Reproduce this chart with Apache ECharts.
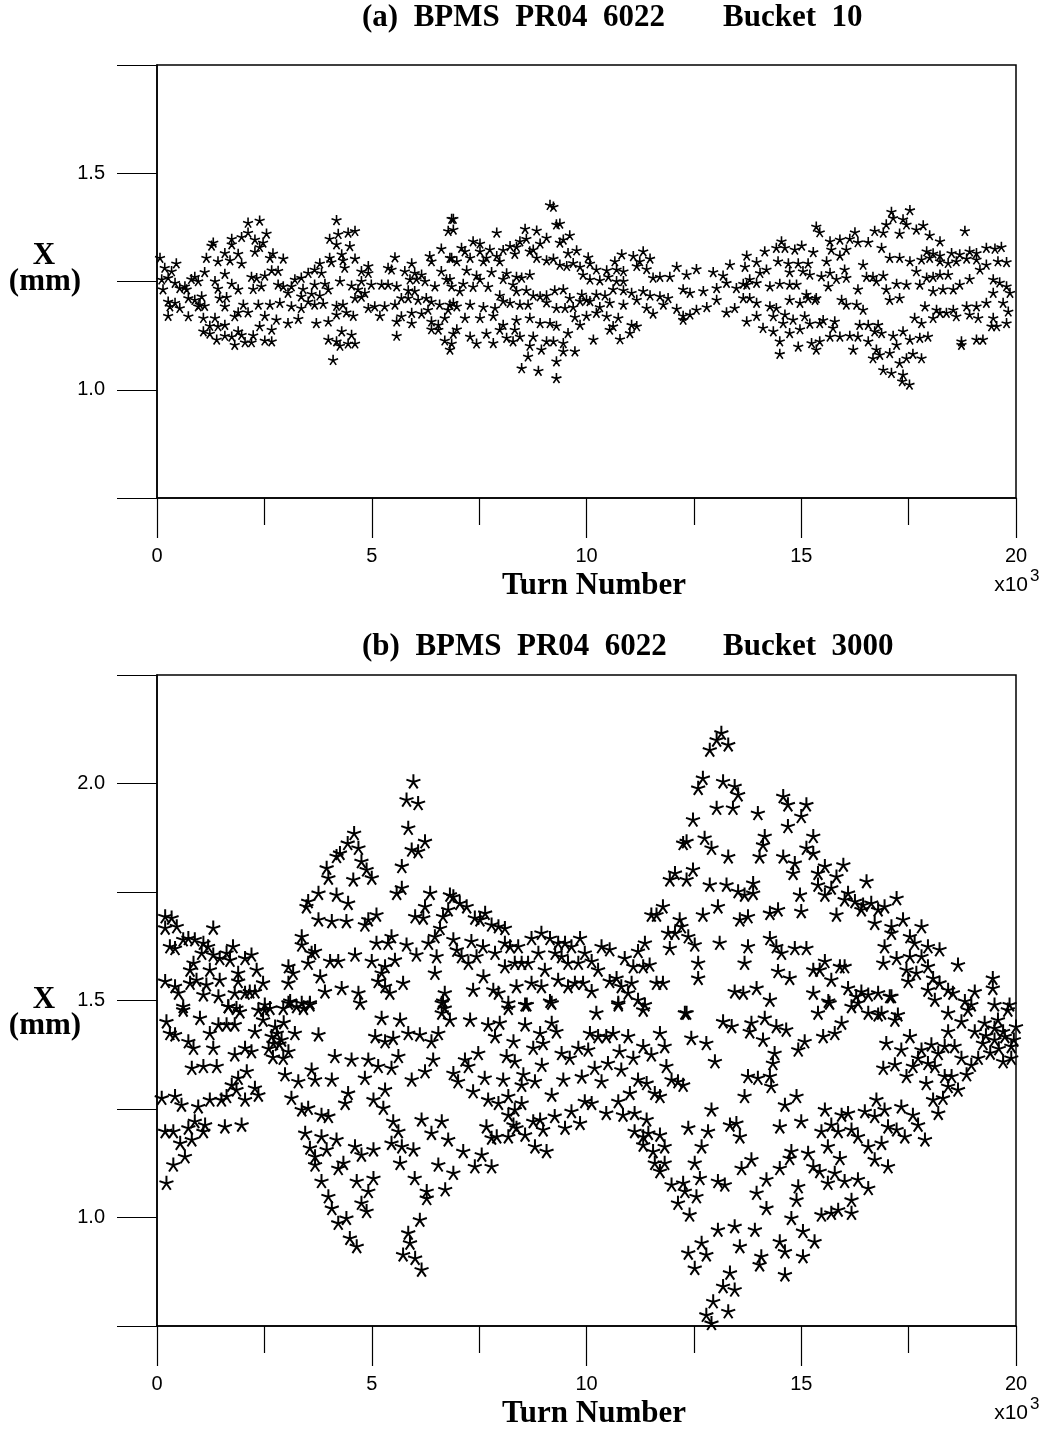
<!DOCTYPE html>
<html>
<head>
<meta charset="utf-8">
<script src="https://cdn.jsdelivr.net/npm/echarts@6/dist/echarts.min.js"></script>
<style>
  html, body { margin: 0; padding: 0; background: #fff; }
  #bpm { width: 1046px; height: 1433px; }
</style>
</head>
<body>
<div id="bpm"></div>
<script>
// turn number (x10^3), horizontal position X (mm)
var bucket10 = [
  [2.12,1.386],[2.39,1.391],[4.18,1.392],[6.86,1.395],[6.78,1.367],[4.61,1.367],[4.45,1.363],[4.22,1.36],[4.02,1.349],[4.18,1.336],[4.49,1.332],[2.12,1.363],[1.97,1.353],[1.74,1.349],[2.55,1.361],[2.28,1.347],[1.31,1.34],[1.74,1.336],[2.47,1.34],[2.39,1.33],[1.27,1.333],[6.62,1.326],
  [1.58,1.316],[1.89,1.314],[2.28,1.319],[2.7,1.315],[2.94,1.303],[2.63,1.305],[1.15,1.305],[1.42,1.297],[1.7,1.299],[1.97,1.292],[0.07,1.305],[0.45,1.292],[0.18,1.282],[0.34,1.274],[3.79,1.292],[4.02,1.305],[4.3,1.313],[4.33,1.299],[4.61,1.303],[4.37,1.282],[4.06,1.295],[5.54,1.306],[5.93,1.292],[6.35,1.309],[6.39,1.297],[6.86,1.305],[6.62,1.274],[5.38,1.282],[5.46,1.278],[4.92,1.286],[4.76,1.274],[4.92,1.27],[5.77,1.274],[6.0,1.27],[6.16,1.266],[3.67,1.278],[3.83,1.27],[3.52,1.27],[2.67,1.276],[2.82,1.275],[1.11,1.272],[1.58,1.268],[2.2,1.261],[2.32,1.258],[2.51,1.264],
  [0.11,1.255],[0.26,1.259],[0.42,1.247],[0.65,1.239],[0.8,1.256],[0.88,1.261],[0.96,1.251],[0.69,1.232],[0.14,1.232],[0.53,1.235],[1.35,1.251],[1.42,1.234],[1.74,1.245],[1.89,1.232],[2.24,1.233],[2.43,1.239],[2.82,1.243],[2.94,1.239],[3.21,1.255],[3.36,1.259],[3.13,1.239],[3.4,1.233],[3.67,1.243],[3.91,1.245],[3.99,1.232],[4.26,1.251],[4.53,1.241],[4.76,1.251],[4.99,1.243],[5.23,1.243],[5.38,1.243],[5.58,1.239],[5.89,1.255],[6.04,1.256],[6.24,1.251],[6.47,1.239],[6.74,1.255],[6.86,1.239],[5.85,1.23],[6.0,1.228],[4.68,1.232],[4.84,1.224],[3.05,1.224],[3.36,1.216],[3.6,1.222],[3.79,1.218],
  [0.26,1.204],[0.42,1.201],[0.73,1.212],[0.88,1.208],[1.04,1.216],[1.0,1.197],[1.46,1.212],[1.62,1.214],[1.58,1.193],[2.01,1.197],[2.36,1.197],[2.63,1.197],[2.86,1.201],[3.13,1.193],[3.36,1.189],[3.52,1.204],[3.67,1.197],[3.87,1.199],[4.18,1.194],[4.33,1.197],[4.61,1.212],[4.76,1.215],[4.92,1.189],[5.07,1.193],[5.3,1.193],[5.54,1.197],[5.69,1.212],[5.85,1.212],[6.08,1.208],[6.27,1.212],[6.39,1.204],[5.93,1.178],[6.16,1.176],[6.31,1.185],[6.58,1.197],[6.78,1.185],[6.9,1.201],[0.3,1.193],[0.53,1.189],[0.96,1.193],[1.11,1.194],[1.89,1.179],[2.12,1.179],[4.18,1.174],[4.41,1.179],[4.57,1.171],
  [0.26,1.171],[0.73,1.17],[1.08,1.166],[1.35,1.166],[1.81,1.17],[2.51,1.171],[2.78,1.162],[3.05,1.154],[3.29,1.164],[3.71,1.154],[3.99,1.158],[5.19,1.171],[5.69,1.17],[5.58,1.158],[5.93,1.154],[6.39,1.158],[6.55,1.15],[6.7,1.166],[1.23,1.148],[1.42,1.147],[1.58,1.15],[2.39,1.147],[2.67,1.139],[1.89,1.135],[1.08,1.135],[1.23,1.13],[1.58,1.125],[1.74,1.123],[1.97,1.127],[2.24,1.126],[1.39,1.116],[1.81,1.104],[2.05,1.11],[2.2,1.11],[2.51,1.114],[2.67,1.112],[4.3,1.135],[4.53,1.127],[3.99,1.116],[4.18,1.112],[4.26,1.102],[4.45,1.107],[4.61,1.107],[5.58,1.125],[6.39,1.14],[6.55,1.139],[6.7,1.114],[6.86,1.107],[6.82,1.093],[6.9,1.13],[4.1,1.069],
  [9.15,1.427],[9.23,1.423],[6.9,1.395],[9.3,1.382],[9.38,1.384],[6.9,1.37],[7.91,1.363],[8.57,1.372],[8.84,1.368],[9.07,1.351],[9.61,1.357],[9.46,1.347],[9.38,1.34],[8.45,1.343],[8.6,1.349],[8.22,1.332],[8.37,1.33],[8.76,1.324],[8.68,1.32],[8.92,1.338],[7.36,1.343],[7.52,1.338],[7.09,1.328],[7.17,1.32],[7.52,1.32],[7.75,1.324],[8.06,1.323],[8.33,1.314],
  [6.82,1.305],[6.98,1.297],[7.29,1.305],[7.6,1.297],[7.67,1.305],[7.91,1.309],[7.98,1.297],[8.84,1.305],[9.07,1.299],[9.23,1.303],[9.57,1.316],[9.77,1.322],[10.04,1.306],[10.08,1.292],[9.38,1.289],[9.54,1.286],[9.69,1.293],[9.85,1.284],[10.23,1.278],[10.47,1.276],[10.7,1.278],[10.86,1.274],[10.66,1.297],[10.82,1.313],[11.09,1.309],[11.32,1.32],[11.48,1.303],[11.24,1.297],[11.17,1.286],[11.4,1.279],
  [7.21,1.276],[7.44,1.264],[7.79,1.272],[8.14,1.269],[8.37,1.261],[8.68,1.266],[6.82,1.256],[7.52,1.255],[8.06,1.256],[8.29,1.243],[8.49,1.259],[9.92,1.266],[10.08,1.255],[10.31,1.253],[10.51,1.261],[10.7,1.251],[10.86,1.251],[11.55,1.259],[11.71,1.261],[11.94,1.261],[12.1,1.284],[12.33,1.266],[12.56,1.279],[12.95,1.272],[13.18,1.264],[13.34,1.289],[13.69,1.284],[13.73,1.31],
  [7.13,1.245],[7.36,1.238],[7.71,1.238],[7.05,1.228],[7.98,1.218],[8.37,1.228],[8.6,1.23],[8.76,1.218],[8.92,1.216],[9.07,1.218],[9.26,1.23],[9.46,1.232],[9.61,1.212],[9.89,1.22],[10.0,1.208],[10.23,1.22],[10.43,1.218],[10.62,1.232],[10.86,1.23],[11.05,1.224],[11.32,1.228],[11.48,1.218],[11.71,1.216],[11.9,1.212],[12.25,1.232],[12.41,1.224],[12.72,1.228],[13.03,1.235],[13.26,1.247],[13.49,1.235],[13.65,1.245],
  [6.82,1.197],[6.98,1.193],[7.29,1.197],[7.6,1.191],[7.87,1.189],[8.06,1.205],[8.22,1.201],[8.45,1.197],[8.64,1.197],[9.07,1.202],[9.3,1.189],[9.5,1.189],[9.69,1.191],[9.85,1.205],[10.08,1.205],[10.31,1.191],[10.54,1.201],[10.86,1.197],[11.17,1.208],[11.4,1.189],[11.55,1.176],[11.79,1.197],[12.1,1.187],[12.25,1.171],[12.41,1.174],[12.56,1.185],[12.8,1.191],[13.03,1.208],[13.26,1.179],[13.45,1.189],[13.65,1.212],
  [7.17,1.166],[7.52,1.166],[7.83,1.171],[8.06,1.15],[8.37,1.161],[8.68,1.166],[8.92,1.154],[9.15,1.154],[9.3,1.148],[9.73,1.168],[10.0,1.171],[9.85,1.15],[10.23,1.178],[10.47,1.17],[10.74,1.166],[10.62,1.147],[11.05,1.15],[11.17,1.147],[12.25,1.162],
  [6.98,1.14],[7.29,1.123],[7.44,1.107],[7.67,1.13],[7.83,1.108],[7.98,1.139],[8.14,1.12],[8.33,1.139],[8.29,1.112],[8.45,1.123],[8.76,1.123],[8.68,1.102],[8.95,1.093],[9.07,1.112],[9.23,1.112],[9.46,1.108],[9.57,1.131],[9.46,1.089],[9.73,1.089],[10.16,1.116],[10.78,1.117],[11.01,1.131],[10.54,1.139],[8.64,1.077],[8.49,1.05],[8.88,1.044],[9.3,1.066],[9.3,1.027],
  [17.1,1.411],[17.53,1.415],[17.14,1.397],[17.37,1.394],[17.45,1.382],[16.98,1.382],[17.84,1.38],[17.68,1.37],[17.29,1.361],[17.99,1.357],[18.81,1.367],[18.23,1.343],[15.35,1.377],[15.43,1.364],[16.25,1.364],[16.71,1.367],[16.91,1.363],[15.9,1.347],[15.67,1.343],[16.13,1.349],[16.32,1.341],[16.56,1.341],[14.54,1.343],[14.42,1.328],[14.62,1.328],[14.85,1.324],[15.01,1.333],[15.28,1.318],[14.15,1.32],[15.7,1.324],[15.9,1.31],[16.05,1.324],[16.87,1.328],[17.92,1.32],[18.07,1.315],[18.23,1.31],[18.5,1.316],[18.69,1.313],[18.92,1.32],[19.08,1.316],[19.31,1.328],[19.51,1.326],[19.66,1.33],
  [13.96,1.295],[14.19,1.278],[14.46,1.297],[14.7,1.292],[14.93,1.292],[15.16,1.292],[15.59,1.297],[14.73,1.272],[15.04,1.274],[15.2,1.266],[15.47,1.262],[15.67,1.27],[16.01,1.278],[15.82,1.256],[16.44,1.289],[16.67,1.261],[16.91,1.264],[17.06,1.305],[17.29,1.305],[17.53,1.297],[17.8,1.301],[17.99,1.305],[18.23,1.297],[18.42,1.293],[18.61,1.297],[18.85,1.303],[19.08,1.301],[19.31,1.289],[19.58,1.297],[19.78,1.295],
  [13.8,1.255],[14.04,1.27],[13.73,1.243],[13.96,1.247],[14.27,1.239],[14.5,1.245],[14.73,1.243],[14.89,1.243],[15.12,1.22],[15.32,1.208],[15.63,1.239],[16.05,1.259],[16.32,1.232],[16.52,1.261],[16.75,1.251],[16.98,1.232],[17.22,1.245],[17.45,1.243],[17.76,1.243],[17.29,1.212],[17.68,1.274],[17.92,1.259],[18.07,1.261],[18.23,1.266],[18.07,1.228],[18.3,1.232],[18.54,1.232],[18.69,1.243],[18.42,1.266],[18.92,1.256],[19.16,1.278],[19.47,1.255],[19.62,1.248],[19.78,1.239],[19.86,1.224],
  [13.8,1.212],[13.96,1.201],[14.27,1.193],[14.42,1.189],[14.73,1.208],[14.97,1.201],[15.16,1.212],[15.35,1.212],[15.94,1.208],[16.05,1.197],[16.29,1.197],[16.44,1.185],[17.88,1.193],[18.15,1.185],[18.23,1.178],[18.54,1.185],[18.85,1.193],[19.08,1.193],[19.31,1.201],[19.47,1.224],[19.7,1.201],[19.82,1.181],[17.06,1.208],
  [13.96,1.171],[14.35,1.17],[14.62,1.174],[14.81,1.162],[15.08,1.17],[15.51,1.161],[15.78,1.158],[13.73,1.158],[14.58,1.154],[15.2,1.153],[15.43,1.154],[15.74,1.143],[16.36,1.15],[16.56,1.15],[16.79,1.15],[17.64,1.166],[17.8,1.154],[18.07,1.166],[18.38,1.178],[18.61,1.17],[18.92,1.174],[19.12,1.166],[19.47,1.166],[19.78,1.154],
  [14.11,1.143],[14.35,1.135],[14.73,1.131],[14.97,1.14],[15.24,1.108],[15.43,1.112],[15.67,1.123],[15.9,1.123],[16.13,1.125],[16.32,1.123],[16.56,1.112],[16.71,1.135],[16.87,1.131],[17.14,1.125],[17.37,1.135],[17.53,1.116],[17.76,1.12],[17.95,1.123],[18.73,1.112],[19.08,1.116],[19.23,1.116],[19.43,1.147],[19.55,1.147],
  [14.5,1.112],[14.5,1.083],[14.93,1.1],[15.35,1.093],[16.21,1.093],[16.75,1.093],[16.67,1.073],[16.83,1.081],[17.06,1.085],[17.22,1.104],[17.45,1.073],[17.6,1.083],[17.8,1.073],[17.29,1.062],[16.91,1.046],[17.1,1.039],[17.37,1.035],[18.73,1.104],[17.52,1.012],[17.35,1.02]
];

var bucket3000 = [
  [5.97,2.005],[5.81,1.963],[6.08,1.955],[5.85,1.898],[5.93,1.848],[6.08,1.844],[6.24,1.867],[5.7,1.81],[5.58,1.748],[5.7,1.76],
  [4.59,1.886],[4.44,1.863],[4.69,1.852],[4.26,1.84],[4.18,1.833],[4.76,1.821],[4.88,1.802],[5.0,1.783],[3.95,1.806],[3.99,1.783],[4.57,1.779],[4.18,1.744],[4.45,1.725],[3.52,1.729],[3.76,1.748],[3.48,1.717],[3.76,1.687],[4.07,1.683],[4.41,1.683],[4.84,1.675],[4.92,1.687],[5.11,1.698],[6.01,1.694],[6.2,1.691],[6.36,1.748],[6.24,1.717],[6.82,1.744],[6.9,1.74],[7.05,1.725],[7.21,1.717],[6.78,1.71],[6.66,1.694],[7.4,1.691],[7.64,1.702],[7.52,1.687],[7.79,1.675],[7.95,1.671],[8.1,1.667],[8.72,1.644],[8.95,1.656],[9.15,1.644],[9.34,1.633],[9.5,1.633],[9.65,1.625],[9.85,1.644],
  [6.59,1.667],[6.47,1.648],[6.32,1.633],[6.51,1.602],[6.47,1.564],[6.7,1.518],[6.66,1.499],[6.9,1.641],[6.98,1.617],[7.09,1.602],[7.25,1.587],[7.32,1.637],[7.59,1.625],[7.44,1.602],[7.87,1.61],[8.1,1.633],[8.22,1.625],[8.41,1.625],[8.1,1.579],[8.33,1.587],[8.49,1.587],[8.64,1.587],[9.03,1.571],[8.88,1.61],[9.27,1.61],[9.42,1.602],[9.57,1.587],[9.81,1.587],[9.34,1.548],[9.57,1.533],[9.73,1.541],[9.92,1.541],[8.72,1.541],[8.95,1.533],[8.37,1.533],[7.36,1.525],[7.6,1.556],[7.83,1.525],[7.95,1.518],[8.18,1.495],[8.57,1.491],[9.15,1.499],
  [0.19,1.694],[0.34,1.691],[0.19,1.668],[0.46,1.671],[0.3,1.625],[0.42,1.621],[0.61,1.641],[0.73,1.644],[0.88,1.641],[1.08,1.633],[1.31,1.668],[1.19,1.625],[1.04,1.61],[0.77,1.571],[0.85,1.587],[1.31,1.606],[1.46,1.598],[1.62,1.61],[1.77,1.625],[1.7,1.594],[1.23,1.571],[1.89,1.564],[2.05,1.598],[2.2,1.606],[2.32,1.571],[0.19,1.545],[0.42,1.533],[0.5,1.518],[0.77,1.541],[0.92,1.548],[1.08,1.514],[1.15,1.537],[1.46,1.548],[1.43,1.51],[1.81,1.518],[1.89,1.545],[2.05,1.518],[2.16,1.521],[2.28,1.521],[2.47,1.541],[0.61,1.487],[1.66,1.487],[1.85,1.483],[2.51,1.491],
  [3.37,1.648],[3.37,1.629],[3.6,1.61],[3.52,1.587],[3.68,1.614],[3.06,1.579],[3.17,1.564],[3.06,1.541],[3.8,1.556],[3.91,1.521],[4.03,1.591],[4.22,1.591],[4.3,1.529],[4.61,1.606],[4.69,1.518],[4.73,1.495],[5.0,1.591],[5.11,1.633],[5.38,1.633],[5.46,1.648],[5.54,1.594],[5.31,1.579],[5.23,1.564],[5.15,1.545],[5.31,1.533],[5.42,1.518],[5.73,1.541],[5.81,1.629],[6.04,1.606],[2.94,1.483],[3.1,1.499],[3.37,1.495],[3.56,1.491],[2.63,1.483],[6.7,1.483],
  [13.14,2.117],[13.03,2.101],[12.87,2.078],[13.3,2.09],[12.71,2.013],[12.6,1.99],[13.18,2.005],[13.45,1.994],[13.53,1.975],[13.03,1.944],[13.41,1.944],[12.48,1.917],[13.99,1.932],[14.58,1.971],[14.69,1.952],[14.69,1.902],[15.0,1.925],[15.12,1.952],[14.15,1.879],[14.11,1.859],[14.03,1.832],[15.28,1.879],[15.12,1.852],[15.28,1.84],[14.58,1.832],[14.85,1.817],[14.81,1.794],[13.3,1.832],[12.25,1.863],[12.33,1.867],[12.75,1.875],[12.91,1.852],[12.48,1.802],[12.06,1.794],[11.94,1.779],[12.33,1.779],[12.87,1.767],[13.26,1.767],[13.53,1.752],[13.68,1.744],[13.88,1.771],[13.88,1.748],[14.97,1.744],[15.0,1.706],
  [15.39,1.794],[15.55,1.81],[15.82,1.786],[15.98,1.813],[15.39,1.767],[15.55,1.744],[15.7,1.76],[16.52,1.775],[16.09,1.748],[16.01,1.733],[16.25,1.729],[16.44,1.721],[16.4,1.71],[16.63,1.725],[16.79,1.71],[16.94,1.717],[17.22,1.736],[15.82,1.698],[16.71,1.679],[17.1,1.671],[17.37,1.687],[17.53,1.648],[17.8,1.671],[17.64,1.633],[16.94,1.625],[17.1,1.656],[16.91,1.587],[17.22,1.598],[17.45,1.571],[17.53,1.602],[17.8,1.602],[17.95,1.625],[18.22,1.618],[17.95,1.579],[17.49,1.545],[17.68,1.564],[18.07,1.552],[18.22,1.541],[18.42,1.525],[18.65,1.583],[17.95,1.525],[18.11,1.502],[18.53,1.518],[18.81,1.499],[18.96,1.491],[19.04,1.521],[19.46,1.552],[19.46,1.529],[19.5,1.491],[19.85,1.491],[17.1,1.51],
  [9.96,1.61],[10.12,1.591],[10.35,1.625],[10.54,1.618],[10.27,1.571],[10.12,1.522],[10.54,1.545],[10.7,1.552],[10.74,1.495],[10.89,1.598],[10.81,1.533],[11.05,1.541],[10.97,1.518],[11.09,1.579],[11.32,1.579],[11.47,1.583],[11.2,1.614],[11.36,1.633],[11.2,1.502],[11.36,1.491],[11.63,1.541],[11.78,1.541],[11.51,1.698],[11.63,1.698],[11.78,1.717],[11.9,1.656],[12.06,1.656],[12.21,1.671],[11.94,1.621],[12.17,1.687],[12.37,1.648],[12.52,1.629],[12.6,1.587],[12.6,1.552],[12.71,1.698],[13.06,1.717],[13.1,1.633],[13.57,1.687],[13.76,1.694],[13.76,1.625],[13.68,1.587],[14.27,1.702],[14.46,1.71],[14.27,1.644],[14.42,1.625],[14.54,1.61],[14.46,1.568],[14.73,1.552],[14.85,1.621],[15.12,1.621],[15.28,1.571],[15.43,1.571],[15.55,1.591],[15.7,1.548],[15.9,1.579],[16.01,1.579],[16.09,1.529],[16.28,1.51],[16.4,1.521],[16.56,1.514],[16.79,1.518],[17.06,1.51],[13.45,1.521],[13.65,1.518],[13.96,1.529],[14.27,1.502],[15.28,1.518],[15.63,1.499],
  [0.22,1.452],[0.3,1.425],[0.42,1.422],[0.73,1.406],[0.85,1.391],[0.61,1.479],[1.0,1.46],[1.23,1.425],[1.43,1.445],[1.62,1.445],[1.81,1.445],[1.93,1.475],[1.66,1.487],[0.81,1.345],[1.08,1.349],[1.39,1.349],[1.31,1.391],[1.81,1.376],[2.05,1.391],[2.2,1.383],[2.28,1.429],[2.47,1.456],[2.36,1.479],[2.51,1.479],[2.67,1.418],[2.79,1.425],[2.71,1.402],[2.9,1.41],[3.06,1.383],[2.94,1.368],[3.21,1.425],[3.25,1.487],[3.06,1.495],[3.41,1.483],[3.56,1.495],[2.75,1.44],[2.85,1.4],[2.6,1.39],[2.95,1.45],[2.7,1.37],
  [1.89,1.322],[1.74,1.306],[2.09,1.337],[2.28,1.299],[2.36,1.283],[2.05,1.272],[1.85,1.295],[0.11,1.276],[0.42,1.28],[0.57,1.26],[0.96,1.256],[1.23,1.272],[1.5,1.272],[1.62,1.28],[0.19,1.199],[0.38,1.199],[0.54,1.172],[0.73,1.207],[0.81,1.18],[0.88,1.222],[1.12,1.214],[1.08,1.199],[1.58,1.21],[1.97,1.214],[0.65,1.141],[0.38,1.122],[0.22,1.08],
  [2.98,1.33],[3.13,1.276],[3.29,1.314],[3.37,1.249],[3.6,1.341],[3.68,1.318],[3.52,1.253],[3.76,1.422],[3.83,1.237],[3.99,1.234],[4.14,1.372],[4.53,1.364],[4.07,1.318],[4.45,1.287],[4.38,1.264],[3.45,1.195],[3.56,1.161],[3.68,1.141],[3.68,1.122],[3.83,1.187],[3.95,1.157],[4.18,1.18],[3.83,1.084],[3.99,1.049],[4.07,1.022],[4.22,0.988],[4.41,0.999],[4.49,0.953],[4.65,0.934],[4.22,1.114],[4.34,1.126],[4.61,1.164],[4.76,1.145],[5.04,1.157],[4.65,1.084],[4.92,1.061],[4.76,1.034],[4.88,1.015],[5.04,1.091],
  [4.92,1.364],[5.15,1.349],[4.84,1.322],[5.04,1.272],[5.31,1.295],[5.27,1.253],[5.46,1.345],[5.62,1.372],[5.5,1.222],[5.62,1.199],[5.46,1.172],[5.08,1.418],[5.23,1.46],[5.31,1.406],[5.5,1.414],[5.66,1.456],[5.85,1.425],[6.12,1.422],[6.39,1.406],[6.55,1.425],[6.43,1.364],[6.24,1.337],[5.93,1.318],[6.16,1.226],[6.39,1.195],[6.63,1.222],[6.78,1.18],[6.55,1.122],[6.71,1.065],[6.9,1.103],[7.13,1.153],[7.4,1.118],[7.56,1.145],[7.79,1.118],[5.7,1.164],[5.97,1.157],[5.66,1.126],[6.0,1.091],[6.28,1.061],[6.28,1.045],[6.12,0.995],[5.85,0.965],[5.73,0.915],[6.01,0.907],[6.16,0.88],[5.89,0.942],
  [6.63,1.495],[6.63,1.472],[6.82,1.456],[7.29,1.456],[7.71,1.445],[7.98,1.449],[8.18,1.483],[7.87,1.418],[8.3,1.406],[8.61,1.491],[8.57,1.445],[8.92,1.425],[9.19,1.495],[9.19,1.449],[9.3,1.429],[6.9,1.333],[7.01,1.314],[7.17,1.364],[7.25,1.349],[7.48,1.379],[7.63,1.322],[7.36,1.291],[8.06,1.318],[8.14,1.372],[8.33,1.36],[8.53,1.33],[8.49,1.306],[8.76,1.391],[8.99,1.402],[8.96,1.352],[8.8,1.314],[9.19,1.283],[9.42,1.379],[9.61,1.368],[9.81,1.391],[9.89,1.325],[9.46,1.318],
  [7.71,1.272],[7.95,1.264],[8.18,1.28],[8.33,1.249],[8.49,1.264],[8.18,1.237],[8.3,1.214],[8.57,1.191],[8.8,1.164],[8.99,1.203],[9.07,1.153],[8.76,1.222],[8.92,1.226],[9.26,1.234],[9.5,1.207],[9.65,1.245],[9.85,1.218],[7.79,1.184],[7.91,1.187],[8.18,1.187],[8.37,1.207],[7.67,1.21],
  [10.23,1.472],[10.74,1.491],[11.32,1.479],[12.29,1.472],[10.08,1.425],[10.27,1.418],[10.46,1.418],[10.62,1.425],[10.97,1.418],[10.77,1.383],[11.09,1.368],[11.32,1.395],[11.51,1.376],[11.71,1.425],[11.82,1.395],[10.04,1.387],[10.19,1.345],[10.5,1.356],[10.81,1.341],[11.01,1.287],[11.2,1.318],[11.4,1.31],[11.59,1.287],[11.71,1.28],[11.86,1.349],[11.98,1.318],[12.13,1.314],[12.25,1.306],
  [9.96,1.268],[10.12,1.264],[10.35,1.314],[10.46,1.241],[10.74,1.268],[10.85,1.237],[11.12,1.241],[11.4,1.226],[11.12,1.199],[11.32,1.187],[11.44,1.195],[11.71,1.191],[11.32,1.168],[11.55,1.153],[11.82,1.164],[11.59,1.126],[11.82,1.126],[11.71,1.107],[11.98,1.076],[12.13,1.034],[12.29,1.061],[12.25,1.08],[12.4,1.007],[12.56,1.049],[12.64,1.091],[12.37,1.207],[12.68,1.164],[12.83,1.199],[12.91,1.249],[12.52,1.126],
  [13.06,1.084],[13.22,1.076],[13.34,1.214],[13.49,1.218],[13.57,1.187],[13.61,1.114],[13.84,1.134],[13.96,1.057],[14.19,1.088],[14.19,1.022],[14.5,1.114],[14.5,1.21],[14.62,1.26],[14.89,1.28],[15.0,1.222],[14.77,1.153],[14.73,1.137],[14.93,1.072],[14.89,1.041],[14.77,0.999],
  [13.06,0.972],[13.45,0.98],[13.92,0.972],[13.57,0.934],[12.68,0.942],[12.79,0.915],[12.37,0.919],[12.52,0.884],[14.07,0.911],[14.03,0.892],[14.5,0.945],[14.62,0.922],[15.04,0.911],[15.04,0.969],[15.31,0.945],[14.62,0.869],[13.34,0.873],[13.18,0.842],[13.45,0.834],[12.95,0.807],[12.79,0.776],[12.91,0.757],[13.3,0.784],
  [13.18,1.452],[13.38,1.441],[13.8,1.429],[13.84,1.449],[14.15,1.46],[14.11,1.41],[14.42,1.441],[14.65,1.433],[14.38,1.379],[14.34,1.356],[14.27,1.326],[13.99,1.322],[13.76,1.326],[13.68,1.28],[14.3,1.303],[14.93,1.387],[15.08,1.406],[15.51,1.418],[15.78,1.425],[15.94,1.449],[15.39,1.472],[15.66,1.495],[12.33,1.472],[12.44,1.414],[12.79,1.402],[12.99,1.36],
  [16.17,1.487],[16.32,1.495],[16.56,1.472],[16.79,1.468],[17.18,1.456],[17.25,1.468],[16.87,1.472],[16.98,1.402],[16.91,1.345],[17.18,1.353],[17.33,1.387],[17.53,1.418],[17.6,1.349],[17.45,1.326],[17.72,1.368],[17.8,1.387],[18.03,1.399],[18.19,1.379],[18.34,1.395],[18.42,1.429],[18.57,1.395],[17.95,1.356],[18.11,1.349],[17.91,1.31],[18.07,1.272],[18.19,1.241],[18.3,1.276],[18.42,1.303],[18.34,1.326],[18.5,1.326],[18.65,1.295],[18.73,1.368],[18.96,1.352],[18.85,1.33],[19.12,1.368],[19.23,1.402],[19.5,1.41],[19.7,1.429],[19.89,1.395],[19.89,1.368],[19.27,1.449],[19.58,1.456],[19.81,1.479],[18.88,1.479],[18.42,1.472],[18.73,1.452],[19.04,1.429],[19.5,1.437],[19.74,1.418],[19.3,1.42],[19.6,1.39],[19.95,1.41],[19.7,1.36],[20.0,1.44],[19.4,1.38],
  [15.55,1.249],[15.47,1.199],[15.7,1.214],[15.62,1.164],[15.94,1.237],[15.86,1.199],[16.09,1.241],[16.17,1.203],[16.32,1.187],[16.48,1.245],[16.56,1.164],[16.71,1.234],[16.75,1.272],[16.94,1.249],[17.02,1.21],[17.22,1.203],[17.33,1.256],[17.41,1.187],[17.6,1.237],[17.72,1.214],[17.88,1.18],[16.71,1.134],[17.02,1.118],[16.87,1.172],[15.9,1.137],[16.01,1.084],[15.78,1.103],[15.62,1.08],[16.17,1.041],[16.32,1.088],[16.56,1.068],[16.17,1.011],[15.86,1.018],[15.7,1.011],[15.47,1.007],[15.16,1.149],[15.28,1.118],[15.43,1.107]
];

var titlesLeft = ['(a)  BPMS  PR04  6022', '(b)  BPMS  PR04  6022'];
var titlesRight = ['Bucket  10', 'Bucket  3000'];
var yLabelsA = [1.0, 1.5];
var yLabelsB = [1.0, 1.5, 2.0];

var serif = '"Liberation Serif", "Times New Roman", serif';
var sans = '"Liberation Sans", Arial, sans-serif';
var star = 'path://M0,-10L0,0M9.51,-3.09L0,0M5.88,8.09L0,0M-5.88,8.09L0,0M-9.51,-3.09L0,0';

// panel geometry in px
var panels = [
  { top: 65, height: 433, min: 0.75, max: 1.75, labels: yLabelsA, titleY: 18, nameY: 256, size: 10, stroke: 1.6 },
  { top: 675, height: 651, min: 0.75, max: 2.25, labels: yLabelsB, titleY: 647, nameY: 1000, size: 14, stroke: 2.0 }
];

var chart = echarts.init(document.getElementById('bpm'));

var grids = [], xAxes = [], yAxes = [], graphics = [];
panels.forEach(function (p, i) {
  grids.push({
    left: 157, top: p.top, width: 859, height: p.height,
    show: true, borderColor: '#000', borderWidth: 1.5
  });
  xAxes.push({
    type: 'value', gridIndex: i, min: 0, max: 20, interval: 5,
    axisLine: { show: true, lineStyle: { color: '#000', width: 1.5 } },
    axisTick: { show: true, length: 40, lineStyle: { color: '#000', width: 1.2 } },
    minorTick: { show: true, splitNumber: 2, length: 27, lineStyle: { color: '#000', width: 1.2 } },
    axisLabel: { margin: 48, fontSize: 20, color: '#000', fontFamily: sans },
    splitLine: { show: false }
  });
  yAxes.push({
    type: 'value', gridIndex: i, min: p.min, max: p.max, interval: 0.25,
    axisLine: { show: true, lineStyle: { color: '#000', width: 1.5 } },
    axisTick: { show: true, length: 40, lineStyle: { color: '#000', width: 1.2 } },
    axisLabel: {
      margin: 52, fontSize: 20, color: '#000', fontFamily: sans,
      formatter: function (v) { return p.labels.indexOf(v) >= 0 ? v.toFixed(1) : ''; }
    },
    splitLine: { show: false }
  });

  var axisBottom = p.top + p.height;
  var bold = { fontSize: 31, fontWeight: 'bold', fontFamily: serif, fill: '#000', verticalAlign: 'middle' };
  graphics.push(
    { type: 'text', x: 362, y: p.titleY, style: Object.assign({ text: titlesLeft[i], align: 'left' }, bold) },
    { type: 'text', x: 723, y: p.titleY, style: Object.assign({ text: titlesRight[i], align: 'left' }, bold) },
    { type: 'text', x: 44, y: p.nameY, style: Object.assign({ text: 'X', align: 'center' }, bold) },
    { type: 'text', x: 45, y: p.nameY + 26, style: Object.assign({ text: '(mm)', align: 'center' }, bold) },
    { type: 'text', x: 594, y: axisBottom + 88, style: Object.assign({ text: 'Turn Number', align: 'center' }, bold) },
    { type: 'text', x: 1028, y: axisBottom + 87, style: { text: 'x10', fontSize: 21, fontFamily: sans, fill: '#000', align: 'right', verticalAlign: 'middle' } },
    { type: 'text', x: 1030, y: axisBottom + 78, style: { text: '3', fontSize: 17, fontFamily: sans, fill: '#000', align: 'left', verticalAlign: 'middle' } }
  );
});

var option = {
  backgroundColor: '#fff',
  animation: false,
  grid: grids,
  xAxis: xAxes,
  yAxis: yAxes,
  graphic: graphics,
  series: [bucket10, bucket3000].map(function (pts, i) {
    return {
      type: 'scatter', xAxisIndex: i, yAxisIndex: i,
      data: pts, symbol: star, symbolSize: panels[i].size, silent: true,
      itemStyle: { color: '#000', borderColor: '#000', borderWidth: panels[i].stroke, opacity: 1 }
    };
  })
};

option && chart.setOption(option);
</script>
</body>
</html>
